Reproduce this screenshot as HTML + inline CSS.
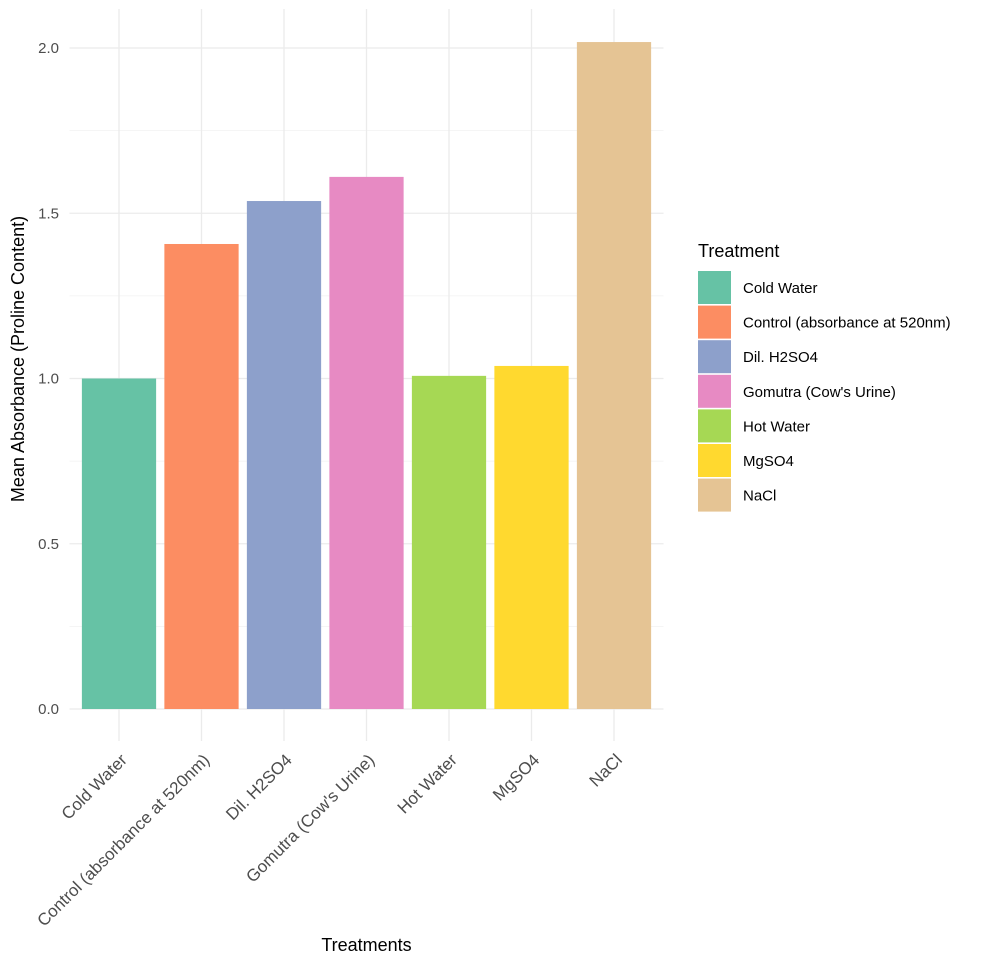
<!DOCTYPE html>
<html><head><meta charset="utf-8"><style>
body{margin:0;background:#fff;}
svg{display:block;font-family:"Liberation Sans",sans-serif;}
</style></head><body>
<svg id="chart" width="1004" height="968"></svg>
<script>
const categories=["Cold Water","Control (absorbance at 520nm)","Dil. H2SO4","Gomutra (Cow's Urine)","Hot Water","MgSO4","NaCl"];
const values=[1.0,1.407,1.537,1.61,1.008,1.038,2.018];
const colors=["#66c2a5","#fc8d62","#8da0cb","#e78ac3","#a6d854","#ffd92f","#e5c494"];
const yTicks=[0,0.5,1.0,1.5,2.0];
const yTickLabels=["0.0","0.5","1.0","1.5","2.0"];
const NS="http://www.w3.org/2000/svg";
const svg=document.getElementById('chart');
const L=69.5,R=663.5,T=9,B=709;
const step=(R-L)/(categories.length+0.2);
const x=i=>L+step*(0.6+i);
const y=v=>B-v*330.5;
function mk(t,a,p){const e=document.createElementNS(NS,t);for(const k in a)e.setAttribute(k,a[k]);(p||svg).appendChild(e);return e;}
for(let i=0;i<yTicks.length-1;i++){const v=(yTicks[i]+yTicks[i+1])/2;
const g=mk('line',{x1:L,x2:R,y1:y(v),y2:y(v),stroke:'#f2f2f2','stroke-width':0.8});

}
yTicks.forEach((v,i)=>{
const g=mk('line',{x1:L,x2:R,y1:y(v),y2:y(v),stroke:'#ebebeb','stroke-width':1.3});


const t=mk('text',{x:59,y:y(v)+5,'text-anchor':'end','font-size':15,fill:'#4d4d4d'});
t.textContent=yTickLabels[i];


});
categories.forEach((c,i)=>{
const g=mk('line',{x1:x(i),x2:x(i),y1:T,y2:741,stroke:'#ebebeb','stroke-width':1.3});


});
categories.forEach((c,i)=>{
const w=step*0.9;
const r=mk('rect',{x:x(i)-w/2,y:y(values[i]),width:w,height:B-y(values[i]),fill:colors[i]});


const t=mk('text',{x:0,y:0,'text-anchor':'end','font-size':17,fill:'#4d4d4d',transform:`translate(${x(i)+9},${761}) rotate(-45)`});
t.textContent=c;


});
let t=mk('text',{x:(L+R)/2,y:951,'text-anchor':'middle','font-size':18,fill:'#000'});
t.textContent='Treatments';


t=mk('text',{x:0,y:0,'text-anchor':'middle','font-size':18,fill:'#000',transform:`translate(24,${(T+B)/2}) rotate(-90)`});
t.textContent='Mean Absorbance (Proline Content)';


t=mk('text',{x:698,y:257,'font-size':18,fill:'#000'});
t.textContent='Treatment';


categories.forEach((c,i)=>{
const yy=271+i*34.6;
const r=mk('rect',{x:698,y:yy,width:33,height:33,fill:colors[i]});


const l=mk('text',{x:743,y:yy+22,'font-size':15,fill:'#000'});
l.textContent=c;


});
</script>
</body></html>
